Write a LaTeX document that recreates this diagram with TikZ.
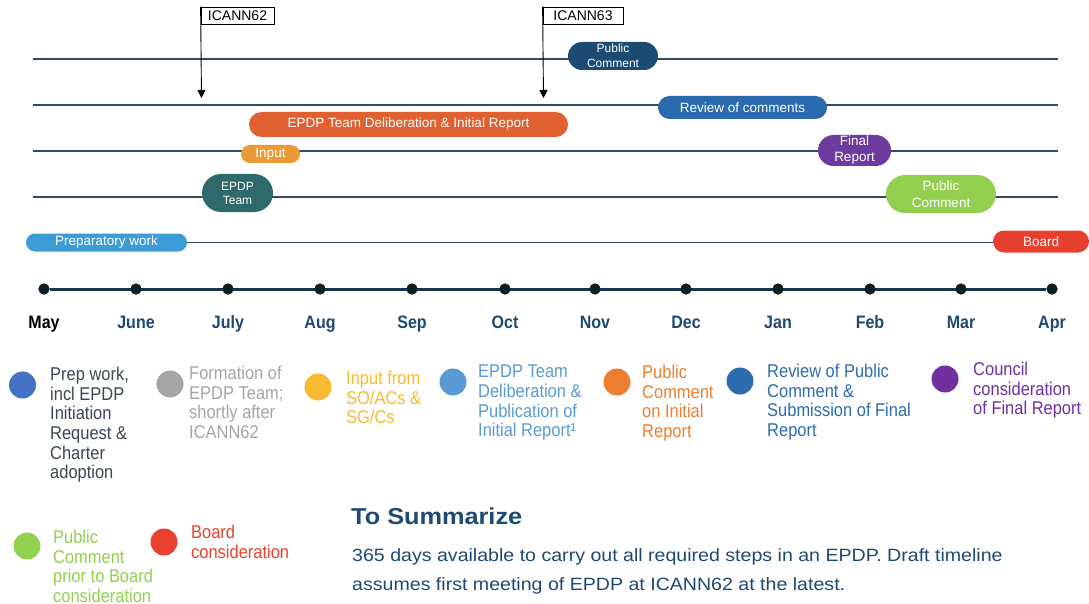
\documentclass[tikz,border=0pt]{standalone}
\usepackage{fontspec}
\setmainfont{Liberation Sans}
\newfontfamily\tallfont[FakeStretch=0.89]{Liberation Sans}
\newfontfamily\widefont[FakeStretch=1.1]{Liberation Sans}
\usetikzlibrary{shapes.misc,arrows.meta}

\definecolor{rowline}{HTML}{34495E}
\definecolor{axis}{HTML}{1A3550}
\definecolor{dot}{HTML}{0F1E22}
\definecolor{navy}{HTML}{1B4A72}
\definecolor{review}{HTML}{2A6BB0}
\definecolor{delib}{HTML}{E0612F}
\definecolor{input}{HTML}{EB9A38}
\definecolor{final}{HTML}{6D3A9D}
\definecolor{team}{HTML}{2E6A6C}
\definecolor{pcgreen}{HTML}{93CF4E}
\definecolor{prep}{HTML}{3D9CD6}
\definecolor{board}{HTML}{E8402F}
\definecolor{lgblue}{HTML}{4472C4}
\definecolor{lggray}{HTML}{A6A6A6}
\definecolor{lgyellow}{HTML}{F7BB33}
\definecolor{lglight}{HTML}{5B9BD5}
\definecolor{lgorange}{HTML}{ED7D31}
\definecolor{lgreview}{HTML}{2E6CB0}
\definecolor{lgpurple}{HTML}{7030A0}
\definecolor{lggreen}{HTML}{92D050}
\definecolor{lgred}{HTML}{E8412F}
\definecolor{preptext}{HTML}{3C4654}
\definecolor{summary}{HTML}{1D4A73}

\begin{document}
\begin{tikzpicture}[x=1pt,y=-1pt]

      \useasboundingbox[fill=white] (0,0) rectangle (1089,604);

      % rows
      \coordinate (r1a) at (33,59);  \coordinate (r1b) at (1058,59);
      \coordinate (r2a) at (33,105); \coordinate (r2b) at (1058,105);
      \coordinate (r3a) at (33,151); \coordinate (r3b) at (1058,151);
      \coordinate (r4a) at (33,197); \coordinate (r4b) at (1058,197);

      \begin{scope}[every path/.style={draw=rowline, line width=1.5pt}]
        \path (r1a) -- (r1b);
        \path (r2a) -- (r2b);
        \path (r3a) -- (r3b);
        \path (r4a) -- (r4b);
      \end{scope}

      % meetings
      \begin{scope}[every node/.style={draw, line width=.8pt, inner sep=0pt,
          minimum height=17, font=\fontsize{14}{14}\selectfont}]
        \node[minimum width=73] (i62) at (237.5,15.5) {ICANN62};
        \node[minimum width=80] (i63) at (583,15.5)   {ICANN63};
      \end{scope}
      \coordinate (a62) at (201.5,98);
      \coordinate (a63) at (543.5,98);
      \draw[line width=.9pt, -{Triangle[width=8pt,length=8pt]}] (i62.north west) -- (a62);
      \draw[line width=.9pt, -{Triangle[width=8pt,length=8pt]}] (i63.north west) -- (a63);

      % phases
      \begin{scope}[every node/.style={rounded rectangle, inner sep=0pt, text=white,
          align=center, font=\fontsize{13.5}{15}\selectfont}]
        \node[fill=navy, minimum width=90, minimum height=28,
          font=\fontsize{12}{15}\selectfont]                       (pc1)   at (613,56)    {Public\\Comment};
        \node[fill=review, minimum width=169, minimum height=23]   (rev)   at (742.5,107.5) {Review of comments};
        \node[fill=delib, minimum width=319, minimum height=25]    (delib) at (408.5,124.5) {EPDP Team Deliberation \& Initial Report};
        \node[fill=input, minimum width=59, minimum height=18]     (input) at (270.5,154) {Input};
        \node[fill=final, minimum width=73, minimum height=31,
          font=\fontsize{13.5}{16}\selectfont]                     (final) at (854.5,150.5) {Final\\Report};
        \node[fill=team, minimum width=71, minimum height=38,
          font=\fontsize{12}{14}\selectfont]                       (team)  at (237.5,193) {EPDP\\Team};
        \node[fill=pcgreen, minimum width=110, minimum height=38,
          font=\fontsize{13.5}{17}\selectfont]                     (pc2)   at (941,194) {Public\\Comment};
        \node[fill=prep, minimum width=161, minimum height=18]     (prep)  at (106.5,242.5) {Preparatory work};
        \node[fill=board, minimum width=96, minimum height=22]     (board) at (1041,241.5) {Board};
      \end{scope}
      \draw[rowline, line width=1.5pt] (prep.east) -- (prep.east -| board.west);

      % months
      \begin{scope}[every node/.style={circle, fill=dot, inner sep=0pt, minimum size=11}]
        \node (m1)  at (44,289)   {};
        \node (m2)  at (136,289)  {};
        \node (m3)  at (228,289)  {};
        \node (m4)  at (320,289)  {};
        \node (m5)  at (412,289)  {};
        \node (m6)  at (505,289)  {};
        \node (m7)  at (595,289)  {};
        \node (m8)  at (686,289)  {};
        \node (m9)  at (778,289)  {};
        \node (m10) at (870,289)  {};
        \node (m11) at (961,289)  {};
        \node (m12) at (1052,289) {};
      \end{scope}
      \draw[axis, line width=3pt] (m1) -- (m12);
      \foreach \n in {1,...,12} \fill[dot] (m\n) circle (5.5pt);

      \begin{scope}[every node/.style={anchor=base, inner sep=0pt, text=summary,
          font=\tallfont\bfseries\fontsize{18}{18}\selectfont}]
        \node[text=black] (l1) at (44,328) {May};
        \node (l2)  at (136,328)  {June};
        \node (l3)  at (228,328)  {July};
        \node (l4)  at (320,328)  {Aug};
        \node (l5)  at (412,328)  {Sep};
        \node (l6)  at (505,328)  {Oct};
        \node (l7)  at (595,328)  {Nov};
        \node (l8)  at (686,328)  {Dec};
        \node (l9)  at (778,328)  {Jan};
        \node (l10) at (870,328)  {Feb};
        \node (l11) at (961,328)  {Mar};
        \node (l12) at (1052,328) {Apr};
      \end{scope}

      % legend
      \begin{scope}[every node/.style={circle, inner sep=0pt, minimum size=27}]
        \node[fill=lgblue]   (d1) at (22.5,385) {};
        \node[fill=lggray]   (d2) at (170,384)  {};
        \node[fill=lgyellow] (d3) at (318,387)  {};
        \node[fill=lglight]  (d4) at (453,382)  {};
        \node[fill=lgorange] (d5) at (617,382)  {};
        \node[fill=lgreview] (d6) at (740,381)  {};
        \node[fill=lgpurple] (d7) at (945,379)  {};
        \node[fill=lggreen]  (d8) at (27,546)   {};
        \node[fill=lgred]    (d9) at (164,542)  {};
      \end{scope}

      \begin{scope}[every node/.style={anchor=north west, inner sep=0pt, align=left,
          font=\tallfont\fontsize{18.5}{19.6}\selectfont}]
        \node[text=preptext] (t1) at (50,367)  {Prep work,\\incl EPDP\\Initiation\\Request \&\\Charter\\adoption};
        \node[text=lggray]   (t2) at (189,366) {Formation of\\EPDP Team;\\shortly after\\ICANN62};
        \node[text=lgyellow] (t3) at (346,371) {Input from\\SO/ACs \&\\SG/Cs};
        \node[text=lglight]  (t4) at (478,365) {EPDP Team\\Deliberation \&\\Publication of\\Initial Report¹};
        \node[text=lgorange] (t5) at (642,365) {Public\\Comment\\on Initial\\Report};
        \node[text=lgreview] (t6) at (767,364) {Review of Public\\Comment \&\\Submission of Final\\Report};
        \node[text=lgpurple] (t7) at (973,362) {Council\\consideration\\of Final Report};
        \node[text=lggreen]  (t8) at (53,530)  {Public\\Comment\\prior to Board\\consideration};
        \node[text=lgred]    (t9) at (191,525) {Board\\consideration};
      \end{scope}

      % summary
      \node[anchor=base west, inner sep=0pt, text=summary,
        font=\widefont\bfseries\fontsize{23}{23}\selectfont] (sum) at (351,524) {To Summarize};
      \node[anchor=north west, inner sep=0pt, text=summary, align=left,
        font=\widefont\fontsize{17.8}{29}\selectfont] (body) at (352,548)
        {365 days available to carry out all required steps in an EPDP. Draft timeline\\assumes first meeting of EPDP at ICANN62 at the latest.};

    \end{tikzpicture}
\end{document}
